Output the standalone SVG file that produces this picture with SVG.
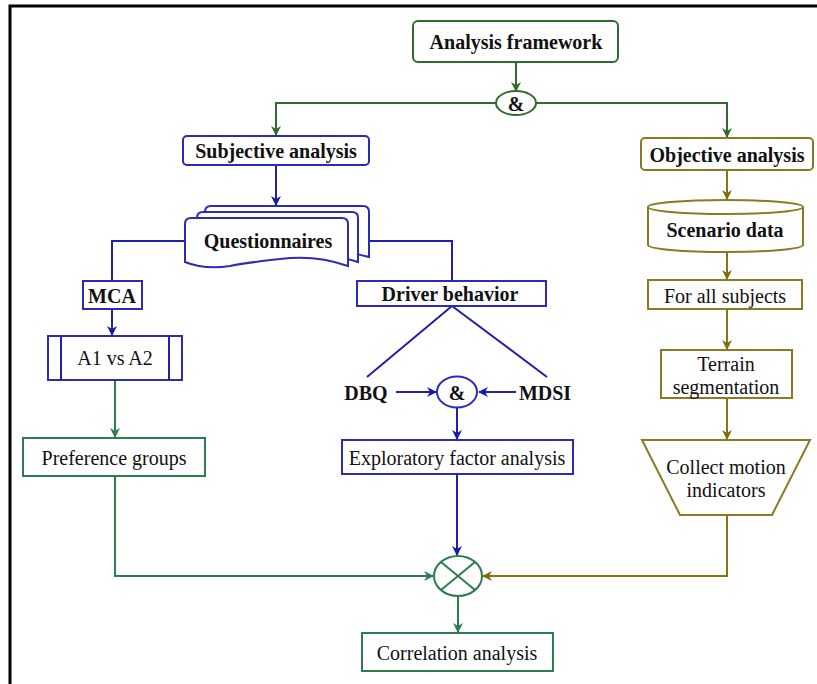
<svg xmlns="http://www.w3.org/2000/svg" width="817" height="684" viewBox="0 0 817 684" font-family="Liberation Serif, Times New Roman, serif">
<defs>
<style>
.t{font-size:20px;fill:#111;text-anchor:middle;dominant-baseline:central}
.b{font-weight:bold}
.g{fill:#fff;stroke:#2f6b2f;stroke-width:2}
.g2{fill:#fff;stroke:#2e7d4e;stroke-width:2}
.bl{fill:#fff;stroke:#2b2bb5;stroke-width:2}
.ol{fill:#fff;stroke:#8a7b22;stroke-width:2}
.cg{fill:none;stroke:#2f6b2f;stroke-width:2}
.cg2{fill:none;stroke:#2e7d4e;stroke-width:2}
.cb{fill:none;stroke:#2020a8;stroke-width:2}
.co{fill:none;stroke:#857515;stroke-width:2}
</style>
<marker id="ag" markerWidth="10" markerHeight="10" refX="9" refY="5" orient="auto" markerUnits="userSpaceOnUse"><path d="M0,0 L10,5 L0,10 L3,5 z" fill="#2f6b2f"/></marker>
<marker id="ag2" markerWidth="10" markerHeight="10" refX="9" refY="5" orient="auto" markerUnits="userSpaceOnUse"><path d="M0,0 L10,5 L0,10 L3,5 z" fill="#2e7d4e"/></marker>
<marker id="ab" markerWidth="10" markerHeight="10" refX="9" refY="5" orient="auto" markerUnits="userSpaceOnUse"><path d="M0,0 L10,5 L0,10 L3,5 z" fill="#1a1aa0"/></marker>
<marker id="ao" markerWidth="10" markerHeight="10" refX="9" refY="5" orient="auto" markerUnits="userSpaceOnUse"><path d="M0,0 L10,5 L0,10 L3,5 z" fill="#7d6d10"/></marker>
</defs>
<rect width="817" height="684" fill="#fff"/>
<path d="M10,690 V6 H830" fill="none" stroke="#000" stroke-width="3"/>

<g id="connectors">
<path class="cg" d="M516,62 V91" marker-end="url(#ag)"/>
<path class="cg" d="M496,103 H276 V135" marker-end="url(#ag)"/>
<path class="cg" d="M536,103 H727 V137" marker-end="url(#ag)"/>
<path class="cb" d="M276,165 V205" marker-end="url(#ab)"/>
<path class="cb" d="M185,241 H112 V281"/>
<path class="cb" d="M369,241 H452 V281"/>
<path class="cb" d="M112,309 V335" marker-end="url(#ab)"/>
<path class="cg2" d="M115,380 V437" marker-end="url(#ag2)"/>
<path class="cb" d="M452,306 L367,377 M452,306 L547,377"/>
<path class="cb" d="M396,392 H436" marker-end="url(#ab)"/>
<path class="cb" d="M516,392 H479" marker-end="url(#ab)"/>
<path class="cb" d="M457,407 V439" marker-end="url(#ab)"/>
<path class="cb" d="M457,474 V555" marker-end="url(#ab)"/>
<path class="cg2" d="M115,476 V576 H433" marker-end="url(#ag2)"/>
<path class="co" d="M727,515 V576 H483" marker-end="url(#ao)"/>
<path class="cg2" d="M458,596 V632" marker-end="url(#ag2)"/>
<path class="co" d="M727,170 V199" marker-end="url(#ao)"/>
<path class="co" d="M727,252 V279" marker-end="url(#ao)"/>
<path class="co" d="M727,309 V349" marker-end="url(#ao)"/>
<path class="co" d="M727,398 V439" marker-end="url(#ao)"/>
</g>

<g id="analysis-framework">
<rect class="g" x="413" y="21" width="205" height="41" rx="5"/>
<text class="t b" x="516" y="42">Analysis framework</text>
</g>
<g id="and-top">
<ellipse class="g" cx="516" cy="103" rx="20" ry="12"/>
<text class="t b" x="516" y="104">&amp;</text>
</g>
<g id="subjective-analysis">
<rect class="bl" x="183" y="136" width="186" height="29" rx="4"/>
<text class="t b" x="276" y="151">Subjective analysis</text>
</g>
<g id="questionnaires">
<path class="bl" d="M205,212 Q205,206 211,206 H363 Q369,206 369,212 V257 Q350,252 330,250 L205,250 Z"/>
<path class="bl" d="M197,218 Q197,212 203,212 H352 Q358,212 358,218 V262 Q340,256 320,254 L197,254 Z"/>
<path class="bl" d="M185,224 Q185,218 191,218 H342 Q348,218 348,224 V266 Q320,256 290,258 Q250,262 230,266 Q205,270 185,262 Z"/>
<text class="t b" x="268" y="241">Questionnaires</text>
</g>
<g id="mca">
<rect class="bl" x="83" y="281" width="59" height="28"/>
<text class="t b" x="112" y="296">MCA</text>
</g>
<g id="driver-behavior">
<rect class="bl" x="357" y="281" width="189" height="25"/>
<text class="t b" x="450" y="294">Driver behavior</text>
</g>
<g id="a1-vs-a2">
<rect class="bl" x="48" y="336" width="134" height="44"/>
<path class="cb" d="M61,336 V380 M169,336 V380"/>
<text class="t" x="115" y="358">A1 vs A2</text>
</g>
<g id="preference-groups">
<rect class="g2" x="23" y="438" width="182" height="38"/>
<text class="t" x="114" y="458">Preference groups</text>
</g>
<g id="dbq">
<text class="t b" x="366" y="393">DBQ</text>
</g>
<g id="mdsi">
<text class="t b" x="545" y="393">MDSI</text>
</g>
<g id="and-mid">
<ellipse class="bl" cx="457" cy="392" rx="20" ry="15.5"/>
<text class="t b" x="457" y="393">&amp;</text>
</g>
<g id="exploratory-factor-analysis">
<rect class="bl" x="342" y="440" width="231" height="34"/>
<text class="t" x="457" y="458">Exploratory factor analysis</text>
</g>
<g id="objective-analysis">
<rect class="ol" x="641" y="138" width="172" height="32" rx="4"/>
<text class="t b" x="727" y="155">Objective analysis</text>
</g>
<g id="scenario-data">
<path class="ol" d="M648,207 A77.5,7 0 0 1 803,207 V245 A77.5,7 0 0 1 648,245 Z"/>
<path class="ol" d="M648,207 A77.5,7 0 0 0 803,207" fill="none"/>
<text class="t b" x="725" y="230">Scenario data</text>
</g>
<g id="for-all-subjects">
<rect class="ol" x="648" y="280" width="154" height="29"/>
<text class="t" x="725" y="296">For all subjects</text>
</g>
<g id="terrain-segmentation">
<rect class="ol" x="661" y="350" width="131" height="48"/>
<text class="t" x="726" y="364">Terrain</text>
<text class="t" x="726" y="387">segmentation</text>
</g>
<g id="collect-motion-indicators">
<path class="ol" d="M642,440 H810 L772,515 H680 Z"/>
<text class="t" x="726" y="467">Collect motion</text>
<text class="t" x="726" y="490">indicators</text>
</g>
<g id="correlation-node">
<ellipse class="g2" cx="458" cy="576" rx="24" ry="20"/>
<path class="cg2" d="M441,562 L475,590 M475,562 L441,590"/>
</g>
<g id="correlation-analysis">
<rect class="g2" x="362" y="633" width="191" height="38"/>
<text class="t" x="457" y="653">Correlation analysis</text>
</g>
</svg>
